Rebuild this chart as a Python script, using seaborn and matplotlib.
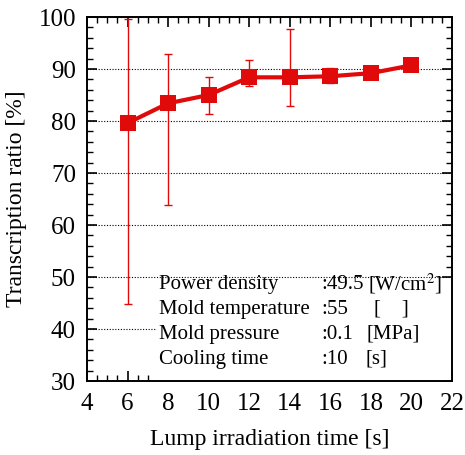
import matplotlib
matplotlib.use("Agg")
import matplotlib.pyplot as plt
from matplotlib.patches import Rectangle
from matplotlib.ticker import MultipleLocator
import numpy as np
import pandas as pd
import seaborn as sns

# Lump irradiation time [s] and transcription ratio [%]
irradiation_time = [6, 8, 10, 12, 14, 16, 18, 20]
transcription_ratio = [79.6, 83.4, 85.0, 88.4, 88.4, 88.6, 89.2, 90.7]
err_upper = [20.0, 9.4, 3.4, 3.3, 9.2, 1.5, 0.8, 0.6]
err_lower = [34.7, 19.5, 3.7, 1.6, 5.5, 1.3, 0.8, 0.6]

# Processing conditions
cond_names = ["Power density", "Mold temperature", "Mold pressure", "Cooling time"]
cond_values = [":49.5", ":55", ":0.1", ":10"]
cond_units = ["[W/cm$^2$]", "[    ]", "[MPa]", "[s]"]

sns.set_theme(style="ticks")
plt.rcParams["font.family"] = ["Liberation Serif", "DejaVu Serif"]
plt.rcParams["mathtext.fontset"] = "stix"
for key in ("text.color", "axes.labelcolor", "xtick.color", "ytick.color", "axes.edgecolor"):
    plt.rcParams[key] = "black"

df = pd.DataFrame({"time": irradiation_time, "ratio": transcription_ratio})

fig = plt.figure(figsize=(4.65, 4.55), dpi=100)
ax = fig.add_axes([87 / 465, (455 - 381) / 455, 365 / 465, 364 / 455])

red = "#e00a0a"
ax.errorbar(df["time"], df["ratio"], yerr=[err_lower, err_upper], fmt="none",
            ecolor=red, elinewidth=1.0, capsize=3, capthick=1.0, zorder=3)
sns.lineplot(data=df, x="time", y="ratio", ax=ax, color=red, linewidth=3,
             marker="s", markersize=11, markeredgewidth=0, zorder=4)

ax.set_xlim(4, 22)
ax.set_ylim(30, 100)
ax.xaxis.set_major_locator(MultipleLocator(2))
ax.xaxis.set_minor_locator(MultipleLocator(0.5))
ax.yaxis.set_major_locator(MultipleLocator(10))
ax.yaxis.set_minor_locator(MultipleLocator(2))

ax.grid(axis="y", which="major", linestyle=(0, (1, 1.5)), color="black", linewidth=0.8)
ax.set_axisbelow(True)

ax.tick_params(which="both", direction="in", top=True, right=True, color="black")
ax.tick_params(which="major", length=7, width=1.2, labelsize=18)
ax.tick_params(axis="y", which="major", pad=8)
ax.tick_params(axis="x", which="major", pad=9)
ax.tick_params(which="minor", length=4, width=1.0)
for s in ax.spines.values():
    s.set_linewidth(1.4)
    s.set_color("black")

ax.set_xlabel("Lump irradiation time [s]", fontsize=17, labelpad=10)
ax.set_ylabel("Transcription ratio [%]", fontsize=17, labelpad=8)

# White panel holding the processing conditions
ax.add_patch(Rectangle((4 + (157 - 87) / 365 * 18, 30), 22, 19.5,
                       facecolor="white", edgecolor="none", zorder=2))

fs = 15
y0 = 0.266
dy = 0.0687
for i, (n, v, u) in enumerate(zip(cond_names, cond_values, cond_units)):
    y = y0 - i * dy
    ax.text((159 - 87) / 365, y, n, transform=ax.transAxes, fontsize=fs, va="center", zorder=5)
    ax.text((321 - 87) / 365, y, v, transform=ax.transAxes, fontsize=fs, va="center", zorder=5)
    ux = [368, 374, 366, 365][i]
    ax.text((ux - 87) / 365, y, u, transform=ax.transAxes, fontsize=fs, va="center", zorder=5)

fig.savefig("out.png", dpi=100)
